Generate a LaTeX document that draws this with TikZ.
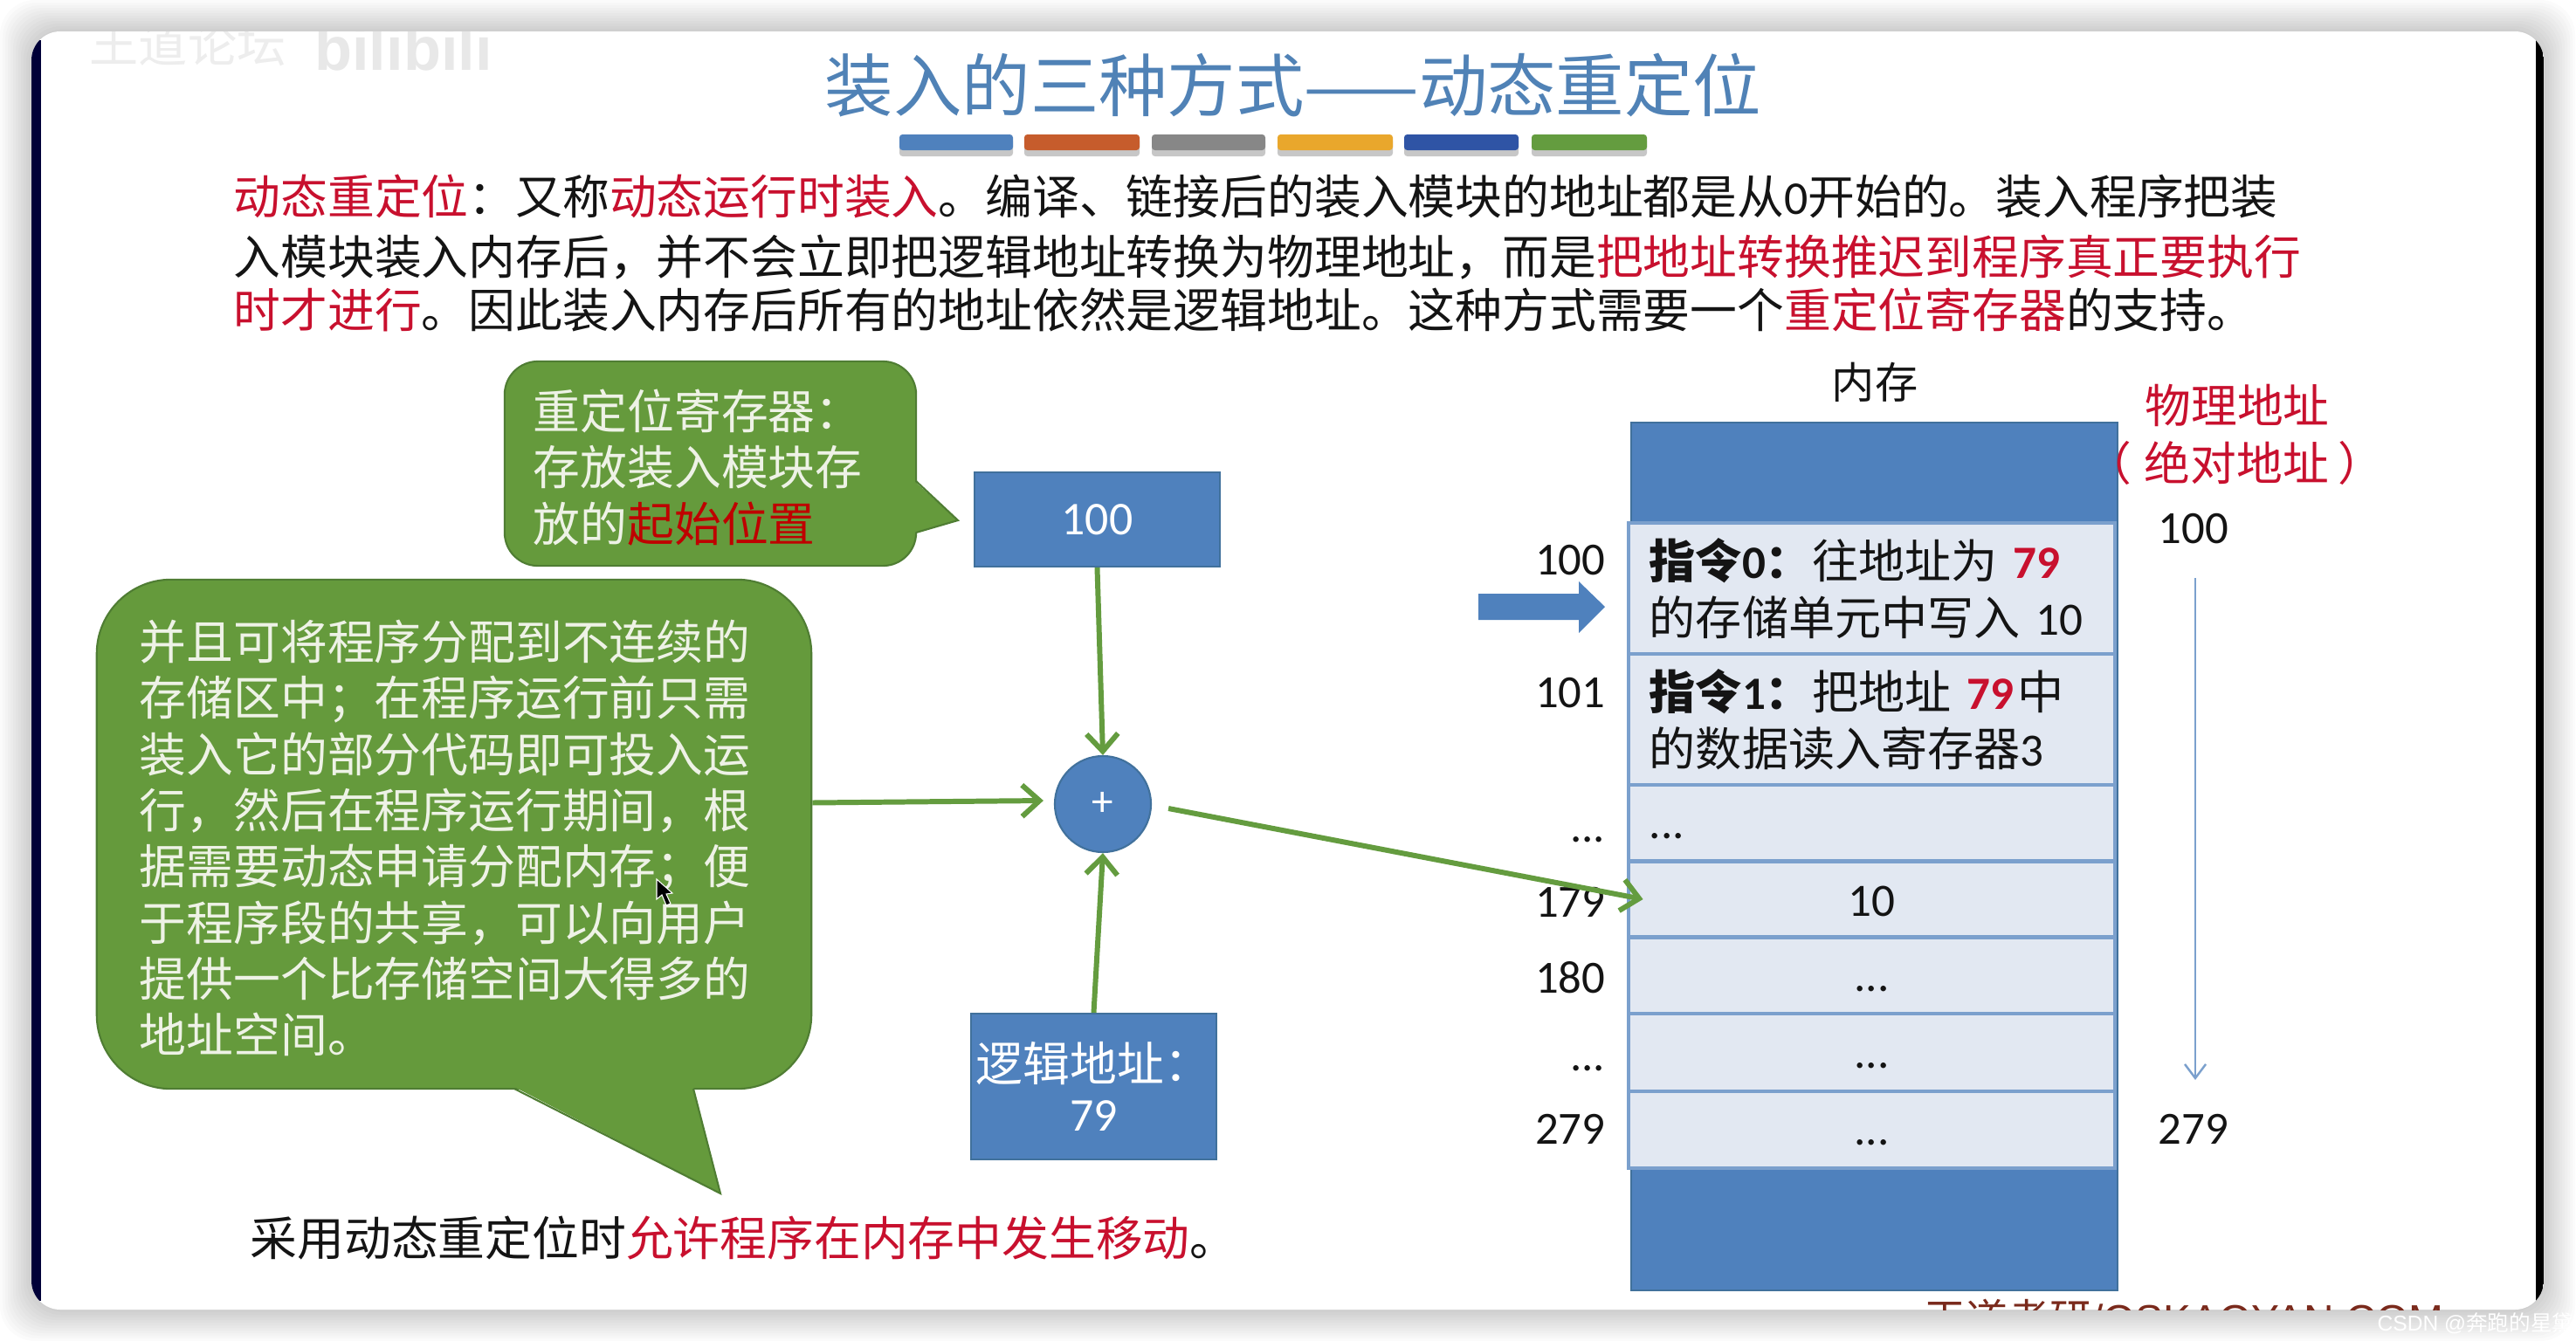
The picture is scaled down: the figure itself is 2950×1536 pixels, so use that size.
\documentclass[tikz,border=0pt]{standalone}
\usepackage{fontspec}
\usepackage{xcolor}
\usetikzlibrary{shapes.geometric,arrows.meta,calc}
\setmainfont{Noto Sans CJK SC}
\newfontfamily\lat{Carlito}
\newfontfamily\arialfont{Liberation Sans}
\definecolor{slideblue}{HTML}{4F81BD}
\definecolor{titleblue}{HTML}{5082B6}
\definecolor{edgeblue}{HTML}{41719C}
\definecolor{cellfill}{HTML}{E2E8F2}
\definecolor{celledge}{HTML}{7BA0CD}
\definecolor{notegreen}{HTML}{659A3C}
\definecolor{noteedge}{HTML}{4F7D33}
\definecolor{arrowgreen}{HTML}{649C3F}
\definecolor{keyred}{HTML}{C8102E}
\definecolor{notetext}{HTML}{EEF2E6}
\definecolor{siteRed}{HTML}{7A2A1C}
\definecolor{barrust}{HTML}{C65C2C}
\definecolor{bargold}{HTML}{E9A72C}
\definecolor{barnavy}{HTML}{2F54A5}
\newcommand{\hl}[1]{\textcolor{keyred}{#1}}
\newcommand{\ddd}{\raisebox{-1.4pt}{...}}
\newcommand{\topstrut}{\rule{0pt}{15.5pt}}

\begin{document}
\begin{tikzpicture}[
      x=0.01cm, y=-0.01cm,
      body/.style={anchor=west, inner sep=0pt, font=\fontsize{15.3}{18.4}\selectfont, text=black!92},
      note/.style={rectangle, draw=noteedge, fill=notegreen, line width=0.6pt,
                   align=left, text=notetext, font=\fontsize{15.3}{18.3}\selectfont},
      regbox/.style={rectangle, draw=edgeblue, fill=slideblue, line width=0.6pt, inner xsep=0.05cm,
                     align=center, text=white, font=\fontsize{15.3}{18.3}\selectfont},
      cell/.style={rectangle, draw=celledge, fill=cellfill, line width=1.3pt,
                   minimum width=5.57cm, text width=5.09cm, inner xsep=0.24cm, inner ysep=0pt,
                   align=left, text=black!92, font=\fontsize{15.1}{18.4}\selectfont},
      addr/.style={anchor=east, inner sep=0pt, text height=12.9pt, text depth=3.2pt,
                   text=black!92, font=\lat\fontsize{15}{18}\selectfont},
      flow/.style={-{Straight Barb[length=0.2cm,width=0.36cm,line width=1.7pt]},
                   line width=1.7pt, color=arrowgreen},
      phys/.style={font=\fontsize{15}{18}\selectfont, text=keyred, inner sep=0pt}
    ]
      \useasboundingbox (0,0) rectangle (2950,1536);
      \fill[white] (0,0) rectangle (2950,1536);
      %% window shadow
      \foreach \s in {1,...,12}
          \fill[black, opacity=0.014, rounded corners=0.4cm]
              (36-3*\s,36-3*\s) rectangle (2913+3*\s,1500+3*\s);
      \fill[white, rounded corners=0.33cm] (36,36) rectangle (2913,1500);
      \begin{scope}
        \clip[rounded corners=0.33cm] (36,36) rectangle (2913,1500);
        \fill[black!78!blue] (36,46) rectangle (47,1490);
        \fill[black] (2904,46) rectangle (2913,1490);
      \end{scope}

      %% cropped marks at the window edges
      \begin{scope}
        \clip (47,36) rectangle (2904,1500);
        \node[inner sep=0pt, text=black!7, font=\fontsize{16}{18}\selectfont] (wmark) at (215,50) {王道论坛};
        \node[inner sep=0pt, text=black!9, font=\arialfont\bfseries\fontsize{20}{22}\selectfont] (bmark) at (462,55) {bilibili};
        \node[inner sep=0pt, text=siteRed, font=\arialfont\fontsize{13.6}{16}\selectfont] (site) at (2501,1510)
            {\fontspec{Noto Sans CJK SC}王道考研\arialfont/OSKAOYAN.COM};
      \end{scope}
      \node[inner sep=0pt, text=white, font=\fontsize{7}{9}\selectfont] (csdn) at (2835,1516)
          {{\arialfont CSDN @}奔跑的星黛};

      %% title and colour bars
      \node[inner sep=0pt, text=titleblue, font=\fontsize{22.3}{26}\selectfont] (title) at (1481,98)
          {装入的三种方式——动态重定位};
      \foreach \xa/\xb/\barcol in {1030/1160/slideblue, 1173/1305/barrust,
                                   1319/1449/black!47, 1463/1595/bargold,
                                   1608/1739/barnavy, 1754/1886/arrowgreen} {
          \fill[black!22, rounded corners=1pt] (\xa,158) rectangle (\xb,179);
          \fill[\barcol, rounded corners=1pt] (\xa,154) rectangle (\xb,172);
      }

      %% intro text
      \node[body] (line1) at (267,225)
          {\hl{动态重定位}：又称\hl{动态运行时装入}。编译、链接后的装入模块的地址都是从{\lat 0}开始的。装入程序把装};
      \node[body] (line2) at (267,295)
          {入模块装入内存后，并不会立即把逻辑地址转换为物理地址，而是\hl{把地址转换推迟到程序真正要执行}};
      \node[body] (line3) at (267,355)
          {\hl{时才进行}。因此装入内存后所有的地址依然是逻辑地址。这种方式需要一个\hl{重定位寄存器}的支持。};

      %% callouts
      \node[note, rounded corners=0.38cm, minimum width=4.71cm, minimum height=2.34cm,
            text width=4.05cm, inner xsep=0.33cm] (regnote) at (813.5,531)
          {\topstrut 重定位寄存器：\\存放装入模块存\\放的\textcolor{red!75!black}{起始位置}};
      \fill[notegreen] (1047,551) -- (1097,596) -- (1047,610) -- cycle;
      \draw[noteedge, line width=0.6pt] (1049,551) -- (1097,596) -- (1049,610);
      \node[note, rounded corners=0.85cm, minimum width=8.18cm, minimum height=5.83cm,
            text width=7.2cm, inner xsep=0.49cm] (alloc) at (520,955.5)
          {\topstrut 并且可将程序分配到不连续的\\存储区中；在程序运行前只需\\装入它的部分代码即可投入运\\行，然后在程序运行期间，根\\据需要动态申请分配内存；便\\于程序段的共享，可以向用户\\提供一个比存储空间大得多的\\地址空间。};
      \fill[notegreen] (589,1245) -- (825,1367) -- (794,1245) -- cycle;
      \draw[noteedge, line width=0.6pt] (589,1247) -- (825,1367) -- (794,1247);
      %% pointer
      \fill[black, draw=white, line width=0.3pt] (752,1007) -- (752,1030) -- (758,1025) -- (763,1037)
          -- (768,1035) -- (763,1024) -- (770,1023) -- cycle;

      %% relocation unit
      \node[regbox, minimum width=2.81cm, minimum height=1.08cm] (reg) at (1256.5,595)
          {\lat 100};
      \node[circle, draw=edgeblue, fill=slideblue, line width=0.6pt, minimum size=1.1cm,
            inner sep=0pt, text=white, font=\lat\fontsize{14}{16}\selectfont] (adder) at (1263,921) {+};
      \node[regbox, minimum width=2.81cm, minimum height=1.67cm] (logic) at (1252.5,1244.5)
          {逻辑地址：\\[-2pt]{\lat 79}\hspace{0.66cm}};
      \node[body] (bottom) at (286,1418)
          {采用动态重定位时\hl{允许程序在内存中发生移动}。};

      %% memory column
      \node[font=\fontsize{14}{16}\selectfont, inner sep=0pt, text=black!92] (memtitle) at (2147,438) {内存};
      \node[rectangle, draw=edgeblue, fill=slideblue, line width=0.6pt,
            minimum width=5.57cm, minimum height=9.93cm, inner sep=0pt] (mem) at (2146.5,981) {};
      \node[cell, minimum height=1.5cm] (cell0) at (2143.5,674)
          {\textbf{指令{\lat 0}：}往地址为 {\lat\bfseries\color{keyred}79}\\的存储单元中写入 {\lat 10}};
      \node[cell, minimum height=1.5cm] (cell1) at (2143.5,824)
          {\textbf{指令{\lat 1}：}把地址 {\lat\bfseries\color{keyred}79}\hspace{0.05cm}中\\的数据读入寄存器{\lat 3}};
      \node[cell, minimum height=0.88cm] (cell2) at (2143.5,943) {\strut{\lat\ddd}};
      \foreach \name/\cy/\h/\txt in {cell3/1030/0.87/\raisebox{-2pt}{10}, cell4/1117.5/0.87/\ddd, cell5/1205.5/0.89/\ddd, cell6/1294/0.88/\ddd}
          \node[cell, minimum height=\h cm, align=center] (\name) at (2143.5,\cy) {\strut{\lat\txt}};

      %% logical addresses
      \foreach \name/\cy/\txt in {a100/641/100, a101/793/101, adots/943/\ddd, a179/1033/179,
                                  a180/1120/180, bdots/1205/\ddd, a279/1293/279}
          \node[addr] (\name) at (1839,\cy) {\txt};
      \fill[slideblue] (1693,680) -- (1808,680) -- (1808,666) -- (1838,695)
          -- (1808,725) -- (1808,710) -- (1693,710) -- cycle;

      %% physical addresses
      \node[phys] (phys1) at (2562,464) {物理地址};
      \node[phys] (phys2) at (2559,530) {（\hspace{0.15cm}绝对地址\hspace{0.1cm}）};
      \node[addr, anchor=center] (p100) at (2512,605) {100};
      \node[addr, anchor=center] (p279) at (2512,1293) {279};
      \draw[-{Straight Barb[length=0.16cm,width=0.24cm]}, line width=0.7pt, color=celledge]
          ($(p100.south)+(2,28)$) -- ($(p279.north)+(2,-27)$);

      %% flow into the adder and out to memory
      \draw[flow] (reg.south) -- (adder.north);
      \draw[flow] ($(alloc.east)+(0,-36)$) -- ($(adder.west)+(-12,-4)$);
      \draw[flow] (logic.north) -- (adder.south);
      \draw[flow] ($(adder.east)+(19,5)$) -- ($(cell3.west)+(19,0)$);
    \end{tikzpicture}
\end{document}
